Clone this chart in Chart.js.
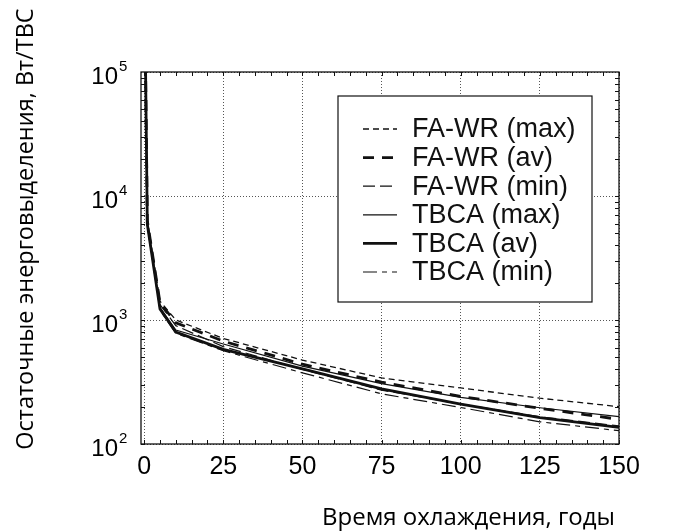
<!DOCTYPE html>
<html><head><meta charset="utf-8">
<script src="https://cdn.jsdelivr.net/npm/chart.js@4.4.0/dist/chart.umd.min.js"></script>
<style>html,body{margin:0;padding:0;background:#fff}#wrap{width:681px;height:531px;position:relative}</style>
</head><body><div id="wrap"><canvas id="c" width="681" height="531"></canvas></div>
<script>
// ---- data ----
const years = [0, 1, 5, 10, 25, 50, 75, 100, 125, 150];
const faWrMax = [1000000, 6500, 1420, 1000, 710, 475, 341, 283, 234, 200];
const faWrAv  = [1000000, 6300, 1380, 950, 675, 440, 315, 242, 194, 158];
const faWrMin = [1000000, 6100, 1330, 900, 610, 400, 272, 210, 166, 140];
const tbcaMax = [1000000, 6000, 1260, 830, 640, 425, 307, 238, 196, 166];
const tbcaAv  = [1000000, 5900, 1230, 800, 580, 404, 278, 210, 163, 136];
const tbcaMin = [1000000, 5800, 1200, 780, 565, 375, 254, 197, 151, 128];
const seriesLabels = ['FA-WR (max)', 'FA-WR (av)', 'FA-WR (min)', 'TBCA (max)', 'TBCA (av)', 'TBCA (min)'];
const xTicks = [0, 25, 50, 75, 100, 125, 150];
const yTicks = [100, 1000, 10000, 100000];
const yTickExp = ['2', '3', '4', '5'];
const xTitle = 'Время охлаждения, годы';
const yTitle = 'Остаточные энерговыделения, Вт/ТВС';

const seriesValues = [faWrMax, faWrAv, faWrMin, tbcaMax, tbcaAv, tbcaMin];
const styles = [
  {w: 1.3, dash: [6, 4]},
  {w: 2.8, dash: [11, 8]},
  {w: 1.2, dash: [12, 5]},
  {w: 1.2, dash: []},
  {w: 2.8, dash: []},
  {w: 1.2, dash: [14, 5, 5, 5]}
];

const datasets = seriesValues.map((vals, i) => ({
  label: seriesLabels[i],
  data: years.map((x, j) => ({x: x, y: vals[j]})),
  borderColor: '#111',
  borderWidth: styles[i].w,
  borderDash: styles[i].dash,
  pointRadius: 0,
  fill: false,
  tension: 0
}));

const TICKFONT = '"Liberation Sans", Arial, sans-serif';
const TITLEFONT = '"Open Sans", "Noto Sans", sans-serif';

const framePlugin = {
  id: 'frame',
  afterDatasetsDraw(chart) {
    const {ctx, chartArea: a, scales: {x, y}} = chart;
    ctx.save();
    ctx.strokeStyle = '#111';
    ctx.lineWidth = 1.3;
    ctx.strokeRect(a.left, a.top, a.right - a.left, a.bottom - a.top);
    ctx.lineWidth = 1;
    ctx.beginPath();
    for (let v = 0; v <= 150; v += 5) {
      const px = Math.round(x.getPixelForValue(v)) + 0.5;
      ctx.moveTo(px, a.bottom); ctx.lineTo(px, a.bottom - 4);
      ctx.moveTo(px, a.top); ctx.lineTo(px, a.top + 4);
    }
    for (let e = 100; e < 100000; e *= 10) {
      for (let k = 1; k <= 9; k++) {
        const py = Math.round(y.getPixelForValue(k * e)) + 0.5;
        ctx.moveTo(a.left, py); ctx.lineTo(a.left + 4, py);
        ctx.moveTo(a.right, py); ctx.lineTo(a.right - 4, py);
      }
    }
    ctx.stroke();
    // y tick labels 10^n
    ctx.fillStyle = '#000';
    yTicks.forEach((v, i) => {
      const py = y.getPixelForValue(v);
      ctx.font = '24px ' + TICKFONT;
      ctx.textAlign = 'right';
      ctx.textBaseline = 'alphabetic';
      ctx.fillText('10', 118, py + 12);
      ctx.font = '15px ' + TICKFONT;
      ctx.textAlign = 'left';
      ctx.fillText(yTickExp[i], 119, py - 1);
    });
    // axis titles
    ctx.font = '24px ' + TITLEFONT;
    ctx.textAlign = 'right';
    ctx.textBaseline = 'alphabetic';
    ctx.fillText(xTitle, 615, 525);
    ctx.save();
    ctx.font = '23.5px ' + TITLEFONT;
    ctx.translate(33, 229);
    ctx.rotate(-Math.PI / 2);
    ctx.textAlign = 'center';
    ctx.fillText(yTitle, 0, 0);
    ctx.restore();
    // legend box
    const L = 338, T = 96, R = 592, B = 302;
    ctx.fillStyle = '#fff';
    ctx.fillRect(L, T, R - L, B - T);
    ctx.strokeStyle = '#111';
    ctx.lineWidth = 1.2;
    ctx.strokeRect(L, T, R - L, B - T);
    ctx.font = '27px ' + TICKFONT;
    ctx.textAlign = 'left';
    ctx.textBaseline = 'middle';
    chart.data.datasets.forEach((ds, i) => {
      const cy = 129 + i * 28.6;
      ctx.beginPath();
      ctx.setLineDash(ds.borderDash);
      ctx.lineWidth = ds.borderWidth;
      ctx.moveTo(363, cy); ctx.lineTo(397, cy);
      ctx.stroke();
      ctx.setLineDash([]);
      ctx.fillStyle = '#111';
      ctx.fillText(ds.label, 412, cy + 1);
    });
    ctx.restore();
  }
};

new Chart(document.getElementById('c'), {
  type: 'line',
  data: {datasets: datasets},
  options: {
    responsive: false,
    animation: false,
    layout: {padding: {left: 141, top: 72, right: 62, bottom: 41}},
    plugins: {legend: {display: false}, tooltip: {enabled: false}},
    scales: {
      x: {
        type: 'linear', min: -1, max: 150,
        afterBuildTicks: s => { s.ticks = xTicks.map(v => ({value: v})); },
        ticks: {font: {family: TICKFONT, size: 25}, color: '#000', padding: 8, maxRotation: 0, autoSkip: false},
        grid: {color: '#555', lineWidth: 1, drawTicks: false},
        border: {display: false, dash: [1, 2]}
      },
      y: {
        type: 'logarithmic', min: 100, max: 100000,
        afterBuildTicks: s => { s.ticks = yTicks.map(v => ({value: v})); },
        ticks: {display: false},
        grid: {color: '#555', lineWidth: 1, drawTicks: false},
        border: {display: false, dash: [1, 2]}
      }
    }
  },
  plugins: [framePlugin]
});
</script>
</body></html>
